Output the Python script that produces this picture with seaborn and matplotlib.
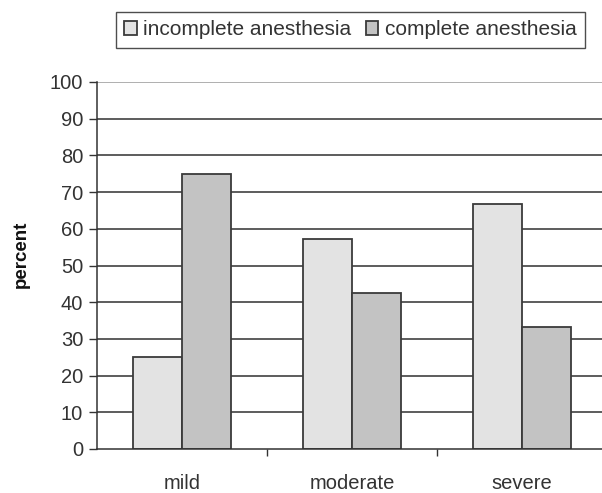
import matplotlib
matplotlib.use("Agg")
import matplotlib.pyplot as plt
import seaborn as sns
import pandas as pd

# values
severity = ['mild', 'moderate', 'severe']
incomplete = [25.0, 57.1, 66.7]
complete = [75.0, 42.4, 33.3]
series_names = ['incomplete anesthesia', 'complete anesthesia']
y_ticks = list(range(0, 101, 10))

df = pd.DataFrame({
    'severity': severity * 2,
    'percent': incomplete + complete,
    'group': [series_names[0]] * 3 + [series_names[1]] * 3,
})

sns.set_style('white')
plt.rcParams['font.family'] = ['Liberation Sans', 'DejaVu Sans']

fig = plt.figure(figsize=(6.02, 4.93), dpi=100)
ax = fig.add_axes([97 / 602, 44 / 493, 510 / 602, 367 / 493])

# gridlines
for v in y_ticks[1:]:
    ax.axhline(v, color='#9a9a9a' if v == 100 else '#303030', lw=1.1, zorder=0)

sns.barplot(data=df, x='severity', y='percent', hue='group', order=severity,
            hue_order=series_names, palette=['#e3e3e3', '#c3c3c3'],
            width=0.58, edgecolor='#3a3a3a', linewidth=1.3, saturation=1,
            ax=ax, zorder=2, legend=True)

ax.set_xlim(-0.5, 2.5)
ax.set_ylim(0, 100)
ax.set_yticks(y_ticks)
ax.set_yticklabels([str(t) for t in y_ticks], fontsize=14.5, color='#333333')
ax.set_xticks([0, 1, 2])
ax.set_xticklabels(severity, fontsize=14.5, color='#333333')
ax.set_xticks([0.5, 1.5], minor=True)
ax.tick_params(axis='x', which='major', length=0, pad=18)
ax.tick_params(axis='x', which='minor', length=5, width=1, color='#333333', direction='out', bottom=True)
ax.tick_params(axis='y', length=6, width=1, color='#333333', direction='out', left=True, pad=4)
ax.set_xlabel('')
ax.set_ylabel('percent', fontsize=13.5, fontweight='bold', color='#111111')
ax.yaxis.set_label_coords(-(97 - 30) / 510, 0.53)

for side in ['top', 'right']:
    ax.spines[side].set_visible(False)
for side in ['left', 'bottom']:
    ax.spines[side].set_color('#333333')
    ax.spines[side].set_linewidth(1.1)

leg = ax.legend(loc='upper left', bbox_to_anchor=(116 / 602, 1 - 12 / 493),
                bbox_transform=fig.transFigure, ncol=2, fontsize=15,
                frameon=True, fancybox=False, handlelength=0.6, handleheight=0.6,
                handletextpad=0.3, columnspacing=0.7, borderpad=0.4,
                borderaxespad=0)
leg.get_frame().set_edgecolor('#222222')
leg.get_frame().set_linewidth(1.0)
for t in leg.get_texts():
    t.set_color('#333333')

fig.savefig('out.png', dpi=100)
